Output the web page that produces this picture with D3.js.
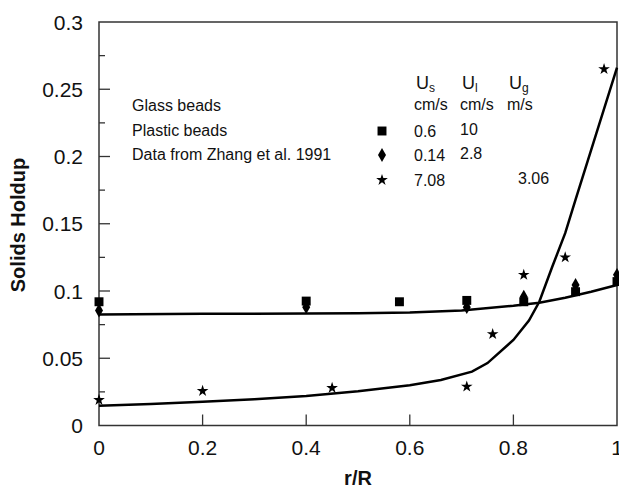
<!DOCTYPE html>
<html>
<head>
<meta charset="utf-8">
<script src="https://cdn.jsdelivr.net/npm/d3@7"></script>
<style>
  body { margin: 0; background: #fff; }
  text { font-family: "Liberation Sans", Arial, sans-serif; fill: #111; }
</style>
</head>
<body>
<div id="chart"></div>
<script>
var width = 619;
var height = 494;

// measured data
var glassX = [0, 0.4, 0.58, 0.71, 0.82, 0.92, 1.0];
var glassY = [0.092, 0.0925, 0.092, 0.093, 0.092, 0.0995, 0.107];

var plasticX = [0, 0.4, 0.71, 0.82, 0.92, 1.0];
var plasticY = [0.0855, 0.088, 0.088, 0.0958, 0.1045, 0.112];

var zhangX = [0, 0.2, 0.45, 0.71, 0.76, 0.82, 0.9, 0.975];
var zhangY = [0.019, 0.0257, 0.0279, 0.0289, 0.068, 0.112, 0.125, 0.265];

// model curves
var beadCurveX = [0, 0.2, 0.4, 0.5, 0.6, 0.7, 0.8, 0.85, 0.9, 0.95, 1.0];
var beadCurveY = [0.0825, 0.083, 0.0832, 0.0835, 0.084, 0.0855, 0.089, 0.0912, 0.095, 0.0995, 0.1045];

var zhangCurveX = [0, 0.1, 0.2, 0.3, 0.4, 0.5, 0.6, 0.66, 0.72, 0.75, 0.8, 0.83, 0.85, 0.875, 0.9, 0.92, 0.96, 1.0];
var zhangCurveY = [0.0147, 0.016, 0.0177, 0.0196, 0.022, 0.0255, 0.030, 0.0338, 0.040, 0.0464, 0.0636, 0.078, 0.092, 0.118, 0.143, 0.168, 0.217, 0.266];

var xTicks = [0, 0.2, 0.4, 0.6, 0.8, 1];
var yTicks = [0, 0.05, 0.1, 0.15, 0.2, 0.25, 0.3];
var yMinor = [0.025, 0.075, 0.125, 0.175, 0.225, 0.275];

var legendNames = ["Glass beads", "Plastic beads", "Data from Zhang et al. 1991"];
var legendUs = ["0.6", "0.14", "7.08"];
var legendUl = ["10", "2.8", ""];
var legendUg = ["", "", "3.06"];

var plotL = 99, plotR = 617, plotT = 22, plotB = 425.5;

var x = d3.scaleLinear().domain([0, 1]).range([plotL, plotR]);
var y = d3.scaleLinear().domain([0, 0.3]).range([plotB, plotT]);

var svg = d3.select("#chart")
    .append("svg")
    .attr("width", width)
    .attr("height", height);

// frame
svg.append("rect")
    .attr("x", plotL)
    .attr("y", plotT)
    .attr("width", plotR - plotL)
    .attr("height", plotB - plotT)
    .attr("fill", "none")
    .attr("stroke", "#333")
    .attr("stroke-width", 1.5);

// y ticks (inside)
svg.append("g").selectAll("line")
    .data(yTicks.slice(1, -1))
    .enter().append("line")
    .attr("x1", plotL).attr("x2", plotL + 11)
    .attr("y1", function(d){ return y(d); })
    .attr("y2", function(d){ return y(d); })
    .attr("stroke", "#333").attr("stroke-width", 1.3);

svg.append("g").selectAll("line")
    .data(yMinor)
    .enter().append("line")
    .attr("x1", plotL).attr("x2", plotL + 6)
    .attr("y1", function(d){ return y(d); })
    .attr("y2", function(d){ return y(d); })
    .attr("stroke", "#333").attr("stroke-width", 1.3);

svg.append("g").selectAll("text")
    .data(yTicks)
    .enter().append("text")
    .attr("x", 83)
    .attr("y", function(d){ return y(d); })
    .attr("dy", "0.36em")
    .attr("text-anchor", "end")
    .attr("font-size", 21)
    .text(function(d){ return d; });

// x ticks (inside)
svg.append("g").selectAll("line")
    .data(xTicks.slice(1, -1))
    .enter().append("line")
    .attr("x1", function(d){ return x(d); })
    .attr("x2", function(d){ return x(d); })
    .attr("y1", plotB).attr("y2", plotB - 11)
    .attr("stroke", "#333").attr("stroke-width", 1.3);

svg.append("g").selectAll("text")
    .data(xTicks)
    .enter().append("text")
    .attr("x", function(d){ return x(d); })
    .attr("y", 455)
    .attr("text-anchor", "middle")
    .attr("font-size", 21)
    .text(function(d){ return d; });

// axis titles
svg.append("text")
    .attr("transform", "translate(25,225) rotate(-90)")
    .attr("text-anchor", "middle")
    .attr("font-size", 20)
    .attr("font-weight", "bold")
    .text("Solids Holdup");

svg.append("text")
    .attr("x", 358)
    .attr("y", 485)
    .attr("text-anchor", "middle")
    .attr("font-size", 20)
    .attr("font-weight", "bold")
    .text("r/R");

// curves
var line = d3.line()
    .x(function(d){ return x(d[0]); })
    .y(function(d){ return y(d[1]); });

svg.append("path")
    .datum(d3.zip(beadCurveX, beadCurveY))
    .attr("d", line)
    .attr("fill", "none")
    .attr("stroke", "#000")
    .attr("stroke-width", 2.5);

svg.append("path")
    .datum(d3.zip(zhangCurveX, zhangCurveY))
    .attr("d", line)
    .attr("fill", "none")
    .attr("stroke", "#000")
    .attr("stroke-width", 2.5);

// markers
var sq = d3.symbol().type(d3.symbolSquare).size(80);
var dia = d3.symbol().type(d3.symbolDiamond).size(55);
var star = d3.symbol().type(d3.symbolStar).size(42);

function drawPoints(xs, ys, sym){
    svg.append("g").selectAll("path")
        .data(d3.zip(xs, ys))
        .enter().append("path")
        .attr("d", sym)
        .attr("transform", function(d){ return "translate(" + x(d[0]) + "," + y(d[1]) + ")"; })
        .attr("fill", "#000");
}
drawPoints(plasticX, plasticY, dia);
drawPoints(glassX, glassY, sq);
drawPoints(zhangX, zhangY, star);

// legend
var leg = svg.append("g");
leg.selectAll("text.name")
    .data(legendNames)
    .enter().append("text")
    .attr("class", "name")
    .attr("x", 132)
    .attr("y", function(d, i){ return 111 + i * 24.5; })
    .attr("font-size", 16)
    .text(function(d){ return d; });

var heads = [["U", "s", 414], ["U", "l", 460], ["U", "g", 507]];
heads.forEach(function(h){
    var t = leg.append("text")
        .attr("x", h[2] + 2)
        .attr("y", 89)
        .attr("font-size", 18);
    t.append("tspan").text(h[0]);
    t.append("tspan").attr("font-size", 12).attr("dy", 3).text(h[1]);
});
["cm/s", "cm/s", "m/s"].forEach(function(u, i){
    leg.append("text")
        .attr("x", heads[i][2])
        .attr("y", 110)
        .attr("font-size", 16)
        .text(u);
});

var rowY = [131, 155, 180];
var legSyms = [sq, dia, star];
legSyms.forEach(function(s, i){
    leg.append("path")
        .attr("d", s)
        .attr("transform", "translate(382," + rowY[i] + ")")
        .attr("fill", "#000");
});
leg.selectAll("text.us")
    .data(legendUs).enter().append("text")
    .attr("x", 414).attr("y", function(d, i){ return rowY[i] + 6; })
    .attr("font-size", 16).text(function(d){ return d; });
leg.selectAll("text.ul")
    .data(legendUl).enter().append("text")
    .attr("x", 460).attr("y", function(d, i){ return rowY[i] + 4; })
    .attr("font-size", 16).text(function(d){ return d; });
leg.selectAll("text.ug")
    .data(legendUg).enter().append("text")
    .attr("x", 518).attr("y", function(d, i){ return rowY[i] + 4; })
    .attr("font-size", 16).text(function(d){ return d; });
</script>
</body>
</html>
